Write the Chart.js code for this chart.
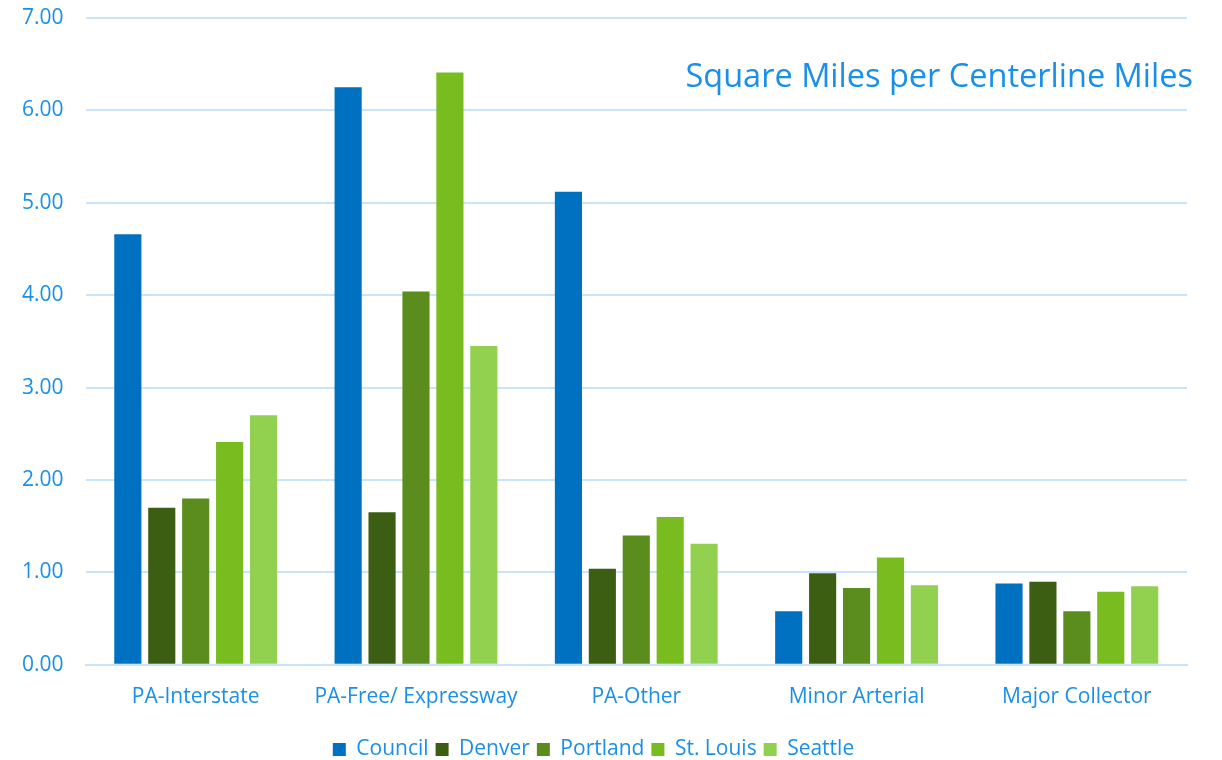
<!DOCTYPE html>
<html>
<head>
<meta charset="utf-8">
<script src="https://cdn.jsdelivr.net/npm/chart.js@4"></script>
<style>
  html, body { margin: 0; padding: 0; background: #fff; }
  #wrap { width: 1222px; height: 760px; }
</style>
</head>
<body>
<div id="wrap"><canvas id="myChart"></canvas></div>
<script>
// datos
const categories = ['PA-Interstate', 'PA-Free/ Expressway', 'PA-Other', 'Minor Arterial', 'Major Collector'];
const council = [4.66, 6.25, 5.12, 0.58, 0.88];
const denver = [1.70, 1.65, 1.04, 0.99, 0.90];
const portland = [1.80, 4.04, 1.40, 0.83, 0.58];
const stLouis = [2.41, 6.41, 1.60, 1.16, 0.79];
const seattle = [2.70, 3.45, 1.31, 0.86, 0.85];
const chartTitle = 'Square Miles per Centerline Miles';

const textColor = '#1a8fe8';
const gridColor = '#c9e4f8';

// titulo dentro del area del grafico, arriba a la derecha
const titlePlugin = {
    id: 'insideTitle',
    afterLayout(chart) {
        // bajar un poco la leyenda
        chart.legend.top += 10;
        chart.legend.bottom += 10;
    },
    afterDraw(chart) {
        const c = chart.ctx;
        const area = chart.chartArea;
        c.save();
        c.font = '32.5px "Open Sans"';
        c.fillStyle = textColor;
        c.textAlign = 'right';
        c.textBaseline = 'middle';
        c.fillText(chartTitle, area.right + 6, 78);
        c.restore();
    }
};

const ctx = document.getElementById('myChart').getContext('2d');
const myChart = new Chart(ctx, {
    type: 'bar',
    data: {
        labels: categories,
        datasets: [
            { label: 'Council', data: council, backgroundColor: '#0070c0' },
            { label: 'Denver', data: denver, backgroundColor: '#3b5e12' },
            { label: 'Portland', data: portland, backgroundColor: '#5b8c1e' },
            { label: 'St. Louis', data: stLouis, backgroundColor: '#78bc20' },
            { label: 'Seattle', data: seattle, backgroundColor: '#92d050' }
        ]
    },
    options: {
        responsive: true,
        maintainAspectRatio: false,
        animation: false,
        layout: { padding: { top: 0, right: 35, left: 0, bottom: 0 } },
        datasets: { bar: { categoryPercentage: 0.77, barPercentage: 0.8 } },
        plugins: {
            legend: {
                position: 'bottom',
                labels: {
                    color: textColor,
                    font: { family: '"Open Sans"', size: 21 },
                    boxWidth: 13,
                    boxHeight: 13,
                    padding: 7
                }
            },
            tooltip: { enabled: false }
        },
        scales: {
            x: {
                grid: { display: false },
                border: { color: gridColor, width: 2 },
                ticks: { color: textColor, font: { family: '"Open Sans"', size: 21 }, padding: 12 }
            },
            y: {
                min: 0,
                max: 7,
                grid: { color: gridColor, lineWidth: 2, drawTicks: false },
                border: { display: false },
                afterFit: s => { s.paddingTop = 18; },
                ticks: {
                    stepSize: 1,
                    color: textColor,
                    font: { family: '"Open Sans"', size: 21 },
                    padding: 22,
                    callback: v => v.toFixed(2)
                }
            }
        }
    },
    plugins: [titlePlugin]
});
</script>
</body>
</html>
